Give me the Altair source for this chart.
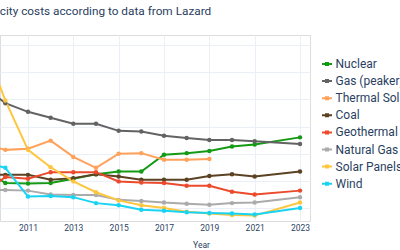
import altair as alt
import pandas as pd

# Levelized cost of electricity (USD/MWh), mean values per Lazard report year
years = [2009, 2010, 2011, 2012, 2013, 2014, 2015, 2016, 2017, 2018, 2019, 2020, 2021, 2023]
nuclear = [123, 96, 95, 96, 104, 112, 117, 117, 148, 151, 155, 163, 167, 180]
gas_peaker = [275, 243, 227, 216, 205, 205, 192, 191, 183, 179, 175, 175, 173, 168]
thermal_solar = [168, 157, 159, 174, 144, 124, 150, 151, 139, 139, 140, None, None, None]
coal = [111, 111, 111, 102, 105, 112, 108, 102, 102, 102, 109, 112, 108, 117]
geothermal = [76, 107, 104, 116, 116, 116, 99, 97, 96, 91, 91, 80, 75, 82]
natural_gas = [83, 83, 82, 75, 74, 74, 65, 63, 60, 58, 56, 59, 60, 70]
solar_panels = [359, 248, 157, 125, 99, 79, 64, 55, 50, 43, 40, 37, 36, 60]
wind = [135, 124, 71, 72, 70, 59, 55, 47, 45, 42, 41, 40, 38, 50]

sources = ["Nuclear", "Gas (peaker)", "Thermal Solar", "Coal", "Geothermal",
           "Natural Gas", "Solar Panels", "Wind"]
colors = ["#149a14", "#636363", "#FFA15A", "#5a4222", "#EB4A2C",
          "#ABABAB", "#FEC63E", "#19D3F3"]
series = [nuclear, gas_peaker, thermal_solar, coal, geothermal,
          natural_gas, solar_panels, wind]

rows = []
for name, values in zip(sources, series):
    for yr, v in zip(years, values):
        if v is not None:
            rows.append({"Year": yr, "Cost": v, "Source": name})
df = pd.DataFrame(rows)

FONT = "Roboto"
TEXT = "#2a3f5f"
GRID = "#EBF0F8"

x = alt.X(
    "Year:Q",
    scale=alt.Scale(domain=[2009.765, 2023.441], nice=False, zero=False),
    axis=alt.Axis(
        values=[2011, 2013, 2015, 2017, 2019, 2021, 2023], format="d",
        grid=True, gridColor=GRID, domain=False, ticks=False,
        labelFontSize=8.5, labelColor=TEXT, labelFont=FONT, labelPadding=2,
        title="Year", titleFont=FONT, titleFontSize=8.5, titleFontWeight="normal",
        titleColor=TEXT, titleX=201, titleY=23, titleAlign="center",
        titleBaseline="middle",
    ),
)
y = alt.Y(
    "Cost:Q",
    scale=alt.Scale(domain=[26.1, 368.4], nice=False, zero=False),
    axis=alt.Axis(values=[50, 100, 150, 200, 250, 300, 350], grid=True,
                  gridColor=GRID, domain=False, ticks=False, labels=False,
                  title=None),
)
color = alt.Color(
    "Source:N",
    scale=alt.Scale(domain=sources, range=colors),
    sort=sources,
    legend=alt.Legend(
        title=None, orient="none", legendX=321, legendY=23, padding=0,
        symbolType="M-1,0H1M-0.2,-0.2H0.2V0.2H-0.2Z", symbolSize=100,
        symbolStrokeWidth=2, labelFont=FONT, labelFontSize=12,
        labelColor=TEXT, labelOffset=2.5, rowPadding=5.1, labelLimit=300,
    ),
)

base = alt.Chart(df).encode(x=x, y=y, color=color)
lines = base.mark_line(strokeWidth=2, clip=True)
points = base.mark_circle(size=20, opacity=1, clip=True)

chart = (
    alt.layer(lines, points)
    .properties(
        width=310, height=186,
        autosize=alt.AutoSizeParams(type="none"),
        padding={"left": 0, "top": 35, "right": 90, "bottom": 29},
        title=alt.TitleParams(
            text="Electricity costs according to data from Lazard",
            anchor="start", frame="group", dx=-33, offset=17,
            font=FONT, fontSize=11.8, fontWeight="normal", color=TEXT,
        ),
    )
    .configure_view(stroke=None)
    .configure(background="white")
)

chart.save("out.html", embed_options={"renderer": "svg", "actions": False})
